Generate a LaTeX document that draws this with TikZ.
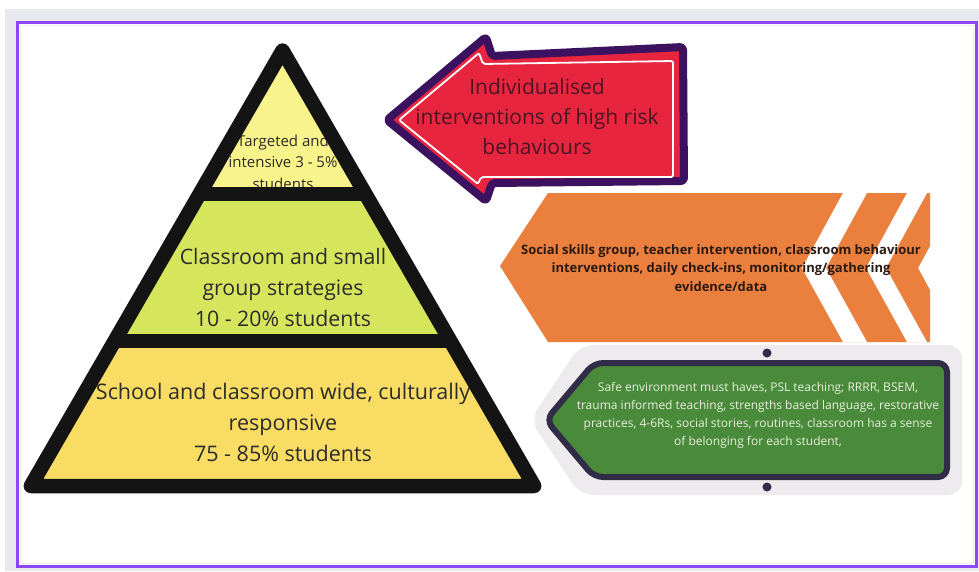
\documentclass[tikz,border=0pt]{standalone}
\usepackage{fontspec}
\setmainfont{Open Sans}
\definecolor{framegrey}{HTML}{E8E9EE}
\definecolor{frameviolet}{HTML}{8B46F5}
\definecolor{innergrey}{HTML}{ECECF0}
\definecolor{tiertop}{HTML}{F8F38A}
\definecolor{tiermid}{HTML}{D6E65C}
\definecolor{tierbot}{HTML}{F8DC63}
\definecolor{pyrline}{HTML}{141414}
\definecolor{pyrtext}{HTML}{2C2C2C}
\definecolor{arrowred}{HTML}{E8253F}
\definecolor{arrowpurple}{HTML}{3C1260}
\definecolor{redtext}{HTML}{4A1524}
\definecolor{orangefill}{HTML}{EA7F3E}
\definecolor{orangetext}{HTML}{2A1A12}
\definecolor{panelgrey}{HTML}{EDEBEE}
\definecolor{greenfill}{HTML}{4A8A3B}
\definecolor{greenline}{HTML}{312C48}
\definecolor{greentext}{HTML}{E8EFDC}
\tikzset{
  pyrlabel/.style={align=center, text=pyrtext, inner sep=0pt},
  arrowlabel/.style={align=center, text=redtext, inner sep=0pt},
}
\begin{document}
\begin{tikzpicture}[x=1pt,y=-1pt]
\useasboundingbox (0,0) rectangle (979,571);
% frame
\fill[white] (0,0) rectangle (979,571);
\fill[framegrey] (5,9) rectangle (979,571);
\draw[frameviolet, line width=3, fill=white] (17.5,22.5) rectangle (976.5,566.5);
\draw[innergrey, line width=1.2] (20.5,25.5) rectangle (973.5,563.5);

% pyramid
\coordinate (apex) at (282.5,50.5);
\coordinate (bl) at (30.8,486);
\coordinate (br) at (534.2,486);
\begin{scope}
  \clip (apex) -- (bl) -- (br) -- cycle;
  \fill[tiertop] (0,0) rectangle (979,194);
  \fill[tiermid] (0,194) rectangle (979,341);
  \fill[tierbot] (0,341) rectangle (979,571);
\end{scope}
\node[pyrlabel, font=\fontsize{15}{21.5}\selectfont] (toptier) at (283,162)
  {Targeted and\\intensive 3 - 5\%\\students};
\node[pyrlabel, font=\fontsize{21.3}{31}\selectfont] (midtier) at (283,288)
  {Classroom and small\\group strategies\\10 - 20\% students};
\node[pyrlabel, font=\fontsize{21.5}{31}\selectfont] (bottier) at (283,422)
  {School and classroom wide, culturally\\responsive\\75 - 85\% students};
\begin{scope}
  \clip (apex) -- (bl) -- (br) -- cycle;
  \draw[pyrline, line width=14] (0,194) -- (979,194);
  \draw[pyrline, line width=14] (0,341) -- (979,341);
\end{scope}
\draw[pyrline, line width=14.5, line join=round] (apex) -- (bl) -- (br) -- cycle;

% red arrow
\draw[arrowpurple, line width=8, line join=round, fill=arrowred, rounded corners=3]
  (387,120) -- (486,37) -- (492,56) -- (683,47) -- (684,181) -- (492,183) -- (486,201) -- cycle;
\draw[white, line width=1.8, line join=round, rounded corners=2]
  (399,120) -- (479,53) -- (483,64) -- (673,61) -- (673,177) -- (481,177) -- (478,184) -- cycle;
\node[arrowlabel, font=\fontsize{21}{30}\selectfont] (redlabel) at (537,117)
  {Individualised\\interventions of high risk\\behaviours};

% orange chevrons
\fill[orangefill] (500,266) -- (548,193) -- (930,193) -- (930,246) -- (918,268) -- (930,290) -- (930,342) -- (548,342) -- cycle;
\fill[white] (843,193) -- (867,193) -- (826,268) -- (867,342) -- (843,342) -- (802,268) -- cycle;
\fill[white] (907,193) -- (927,193) -- (886,268) -- (927,342) -- (907,342) -- (866,268) -- cycle;
\node[align=center, text=orangetext, inner sep=0pt, font=\bfseries\fontsize{13}{18.5}\selectfont] (orangelabel) at (721,268)
  {Social skills group, teacher intervention, classroom behaviour\\interventions, daily check-ins, monitoring/gathering\\evidence/data};

% green panel
\fill[panelgrey, rounded corners=14] (530,420) -- (580,345) -- (962,345) -- (962,495) -- (580,495) -- cycle;
\draw[greenline, line width=6, fill=greenfill, rounded corners=9, line join=round]
  (546,420) -- (594,363) -- (947,363) -- (947,477) -- (594,477) -- cycle;
\fill[greenline] (767,353) circle (4.5);
\fill[greenline] (767,487) circle (4.5);
\node[align=center, text=greentext, inner sep=0pt, font=\fontsize{12}{18}\selectfont] (greenlabel) at (758,415)
  {Safe environment must haves, PSL teaching; RRRR, BSEM,\\trauma informed teaching, strengths based language, restorative\\practices, 4-6Rs, social stories, routines, classroom has a sense\\of belonging for each student,};
\end{tikzpicture}
\end{document}
